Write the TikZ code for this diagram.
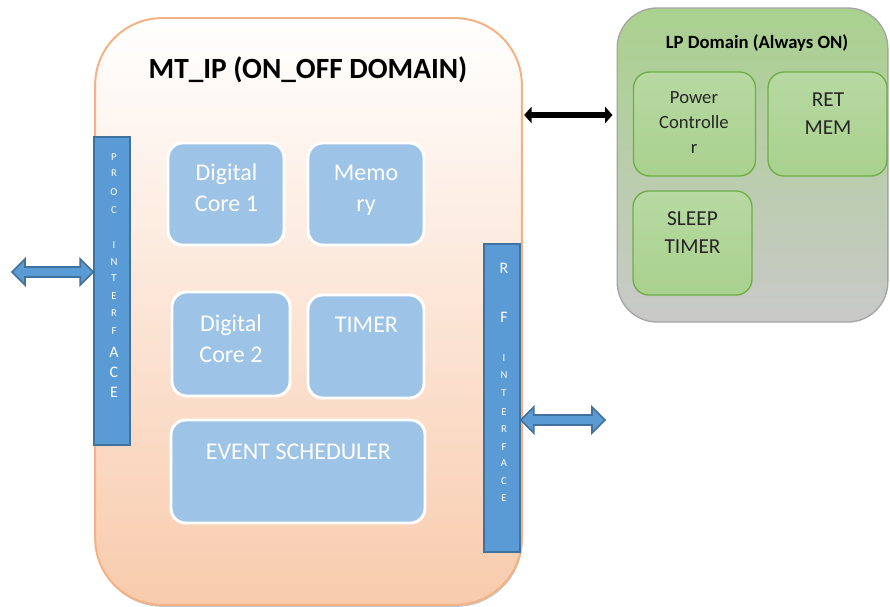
\documentclass[tikz,border=0pt]{standalone}
\usepackage{fontspec}
\setmainfont{Carlito}
\usetikzlibrary{calc,positioning,shadows,arrows.meta}
\definecolor{peach}{RGB}{248,203,173}
\definecolor{peachline}{RGB}{244,177,131}
\definecolor{barblue}{RGB}{91,155,213}
\definecolor{barline}{RGB}{65,113,156}
\definecolor{boxblue}{RGB}{157,195,230}
\definecolor{lpgreen}{RGB}{169,209,142}
\definecolor{lpmid}{RGB}{186,204,174}
\definecolor{lpgrey}{RGB}{201,201,201}
\definecolor{lpline}{RGB}{165,165,165}
\definecolor{leaflight}{RGB}{183,217,162}
\definecolor{leafline}{RGB}{112,173,71}
\definecolor{darktext}{RGB}{38,38,38}
\tikzset{
  mainbox/.style={draw=peachline, line width=1.5pt, rounded corners=50pt, top color=white, bottom color=peach,
    minimum width=320pt, minimum height=440pt,
    drop shadow={shadow xshift=0.6pt, shadow yshift=-1.5pt, fill=black!45, opacity=0.5}},
  bar/.style={draw=barline, line width=1.2pt, fill=barblue, minimum width=27pt, minimum height=231pt},
  barsmall/.style={text=white, inner sep=0pt, font=\fontsize{8}{9}\selectfont},
  barbig/.style={text=white, inner sep=0pt, font=\fontsize{12}{13}\selectfont},
  bluebox/.style={draw=white, line width=2.2pt, fill=boxblue, rounded corners=11pt},
  bluetext/.style={text=white, align=center, inner sep=0pt, font=\fontsize{18}{23.25}\selectfont},
  lpbox/.style={draw=lpline, line width=1pt, rounded corners=30pt, top color=lpgreen, middle color=lpmid, bottom color=lpgrey,
    minimum width=203pt, minimum height=235.5pt},
  leafbox/.style={draw=leafline, line width=1pt, rounded corners=12pt, top color=leaflight, bottom color=lpgreen,
    minimum height=78pt},
  leaftext/.style={text=darktext, align=center, inner sep=0pt},
  blockarrow/.style={draw=barline, line width=1.2pt, fill=barblue, line join=miter},
  linkarrow/.style={line width=4.4pt, {Triangle[length=5.5pt,width=12pt]}-{Triangle[length=5.5pt,width=12pt]}}
}
% block arrow with two heads, between two points on one row
\newcommand{\blockarrow}[2]{%
  \draw[blockarrow] let \p1=(#1), \p2=(#2) in
    (\x1,\y1) -- (\x1+9.75pt,\y1+9.75pt) -- (\x1+9.75pt,\y1+3.75pt)
    -- (\x2-9.75pt,\y1+3.75pt) -- (\x2-9.75pt,\y1+9.75pt) -- (\x2,\y1)
    -- (\x2-9.75pt,\y1-9.75pt) -- (\x2-9.75pt,\y1-3.75pt)
    -- (\x1+9.75pt,\y1-3.75pt) -- (\x1+9.75pt,\y1-9.75pt) -- cycle;}
\begin{document}
\begin{tikzpicture}[x=0.75pt, y=-0.75pt]
		%%%%% START %%%%%
		\useasboundingbox (0,0) rectangle (890,607);
		
		% on/off domain
		\node[mainbox] (mtip) at (308.5,311.5) {};
		\node[font=\fontsize{22}{26}\selectfont\bfseries, inner sep=0pt] (mttitle) at (308,70) {MT\_IP (ON\_OFF DOMAIN)};
		
		\node[bluebox, minimum width=87pt, minimum height=76.5pt] (core1) at (226,194) {};
		\node[bluebox, minimum width=87pt, minimum height=76.5pt] (memory) at (366,194) {};
		\node[bluebox, minimum width=88.5pt, minimum height=78pt] (core2) at (231,344) {};
		\node[bluebox, minimum width=87pt, minimum height=77.25pt] (timer) at (366,346.5) {};
		\node[bluebox, minimum width=190.5pt, minimum height=77.25pt] (sched) at (298,471.5) {};
		
		\node[bluetext] (core1txt) at (226.5,188) {Digital\\Core 1};
		\node[bluetext] (memorytxt) at (366,190) {Memo\\ry};
		\node[bluetext] (core2txt) at (231,339) {Digital\\Core 2};
		\node[bluetext] (timertxt) at (366.5,325) {TIMER};
		\node[bluetext] (schedtxt) at (298.5,452) {EVENT SCHEDULER};
		
		% interfaces
		\node[bar] (proc) at (112,291) {};
		\foreach \ch/\y [count=\i] in {P/157, R/173, O/192, C/210, I/245, N/262, T/278, E/296, R/313, F/331}
			\node[barsmall] (procs\i) at (114,\y) {\ch};
		\foreach \ch/\y [count=\i] in {A/352, C/372, E/392}
			\node[barbig] (procb\i) at (114,\y) {\ch};
		
		\node[bar] (rf) at (502,398) {};
		\foreach \ch/\y [count=\i] in {R/268, F/317}
			\node[barbig] (rfb\i) at (504,\y) {\ch};
		\foreach \ch/\y [count=\i] in {I/358, N/375, T/393, E/412, R/429, F/447, A/463, C/481, E/498}
			\node[barsmall] (rfs\i) at (504,\y) {\ch};
		
		\coordinate (procout) at (12,272);
		\blockarrow{procout}{proc.west |- procout}
		\coordinate (rfout) at (605,420);
		\blockarrow{rf.east |- rfout}{rfout}
		
		% always on domain
		\node[lpbox] (lp) at (752.5,165) {};
		\node[font=\fontsize{14}{17}\selectfont\bfseries, inner sep=0pt] (lptitle) at (757,43) {LP Domain (Always ON)};
		
		\node[leafbox, minimum width=91.5pt] (pwrctl) at (694.5,124) {};
		\node[leafbox, minimum width=89.25pt] (retmem) at (827.5,124) {};
		\node[leafbox, minimum width=89.25pt] (sleep) at (692.5,243) {};
		
		\node[leaftext, font=\fontsize{14}{18.4}\selectfont] (pwrctltxt) at (694,122.5) {Power\\Controlle\\r};
		\node[leaftext, font=\fontsize{16}{21}\selectfont] (retmemtxt) at (828,114) {RET\\MEM};
		\node[leaftext, font=\fontsize{16}{21}\selectfont] (sleeptxt) at (692.5,233) {SLEEP\\TIMER};
		
		\coordinate (linkrow) at (570,115);
		\draw[linkarrow, shorten <=1pt, shorten >=3pt] (linkrow -| mtip.east) -- (linkrow -| lp.west);
		%%%%% END %%%%%
\end{tikzpicture}
\end{document}
